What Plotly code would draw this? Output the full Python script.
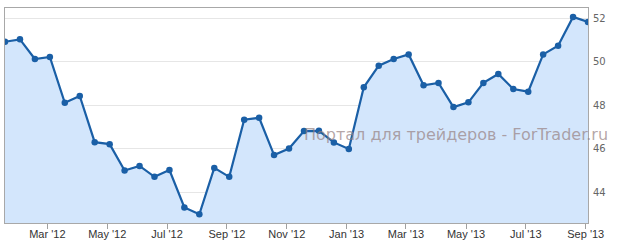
import numpy as np
import pandas as pd
import plotly.graph_objects as go

dates = [
    "2012-01-15", "2012-02-04", "2012-02-15", "2012-03-04", "2012-03-15", "2012-04-04",
    "2012-04-15", "2012-05-04", "2012-05-15", "2012-06-04", "2012-06-15", "2012-07-04",
    "2012-07-15", "2012-08-04", "2012-08-15", "2012-09-04", "2012-09-15", "2012-10-04",
    "2012-10-15", "2012-11-04", "2012-11-15", "2012-12-04", "2012-12-15", "2013-01-04",
    "2013-01-15", "2013-02-04", "2013-02-15", "2013-03-04", "2013-03-15", "2013-04-04",
    "2013-04-15", "2013-05-04", "2013-05-15", "2013-06-04", "2013-06-15", "2013-07-04",
    "2013-07-15", "2013-08-04", "2013-08-15", "2013-09-04",
]
values = [
    50.92, 51.03, 50.13, 50.22, 48.12, 48.43, 46.31, 46.22, 45.01, 45.22,
    44.72, 45.03, 43.31, 43.00, 45.13, 44.72, 47.34, 47.43, 45.72, 46.02,
    46.82, 46.83, 46.30, 46.00, 48.83, 49.82, 50.13, 50.34, 48.92, 49.03,
    47.92, 48.14, 49.03, 49.44, 48.75, 48.63, 50.34, 50.74, 52.06, 51.83,
]
tick_dates = ["2012-03-01", "2012-05-01", "2012-07-01", "2012-09-01", "2012-11-01",
              "2013-01-01", "2013-03-01", "2013-05-01", "2013-07-01", "2013-09-01"]
tick_labels = ["Mar '12", "May '12", "Jul '12", "Sep '12", "Nov '12",
               "Jan '13", "Mar '13", "May '13", "Jul '13", "Sep '13"]
y_ticks = [44, 46, 48, 50, 52]
watermark = "Портал для трейдеров - ForTrader.ru"

# ordinal axis: points equally spaced, ticks interpolated between points
idx = np.arange(len(dates))
pt_days = pd.to_datetime(dates).values.astype("datetime64[D]").astype(float)
tk_days = pd.to_datetime(tick_dates).values.astype("datetime64[D]").astype(float)
tick_pos = np.interp(tk_days, pt_days, idx)

LINE = "#1a5fa6"
fig = go.Figure()
fig.add_trace(go.Scatter(
    x=idx, y=values, mode="lines+markers",
    line=dict(color=LINE, width=2.2),
    marker=dict(color=LINE, size=6.5),
    fill="tozeroy", fillcolor="#d3e6fc",
    hoverinfo="skip",
))

fig.add_annotation(
    text=watermark, xref="paper", yref="paper",
    x=1.0377, y=0.41, xanchor="right", yanchor="middle",
    showarrow=False,
    font=dict(family="DejaVu Sans", size=16, color="rgba(150,128,128,0.7)"),
)

fig.update_layout(
    width=617, height=249,
    margin=dict(l=5, r=29, t=8, b=26),
    paper_bgcolor="white", plot_bgcolor="white",
    showlegend=False,
    xaxis=dict(
        range=[0, len(dates) - 1],
        tickmode="array", tickvals=tick_pos, ticktext=tick_labels,
        ticks="outside", ticklen=5, tickcolor="#a0a0a0", tickwidth=1,
        ticklabelstandoff=-4,
        showgrid=False, zeroline=False,
        showline=True, linecolor="#a8a8a8", linewidth=1, mirror=True,
        tickfont=dict(family="Liberation Sans", size=11, color="#333333"),
    ),
    yaxis=dict(
        side="right", range=[42.6, 52.47],
        tickmode="array", tickvals=y_ticks,
        ticks="", showgrid=True, gridcolor="#e6e6e6", gridwidth=1,
        zeroline=False,
        showline=True, linecolor="#a8a8a8", linewidth=1, mirror=True,
        tickfont=dict(family="DejaVu Sans", size=10, color="#666666"),
        ticklabelstandoff=2,
    ),
)

fig.write_html("out.html")
